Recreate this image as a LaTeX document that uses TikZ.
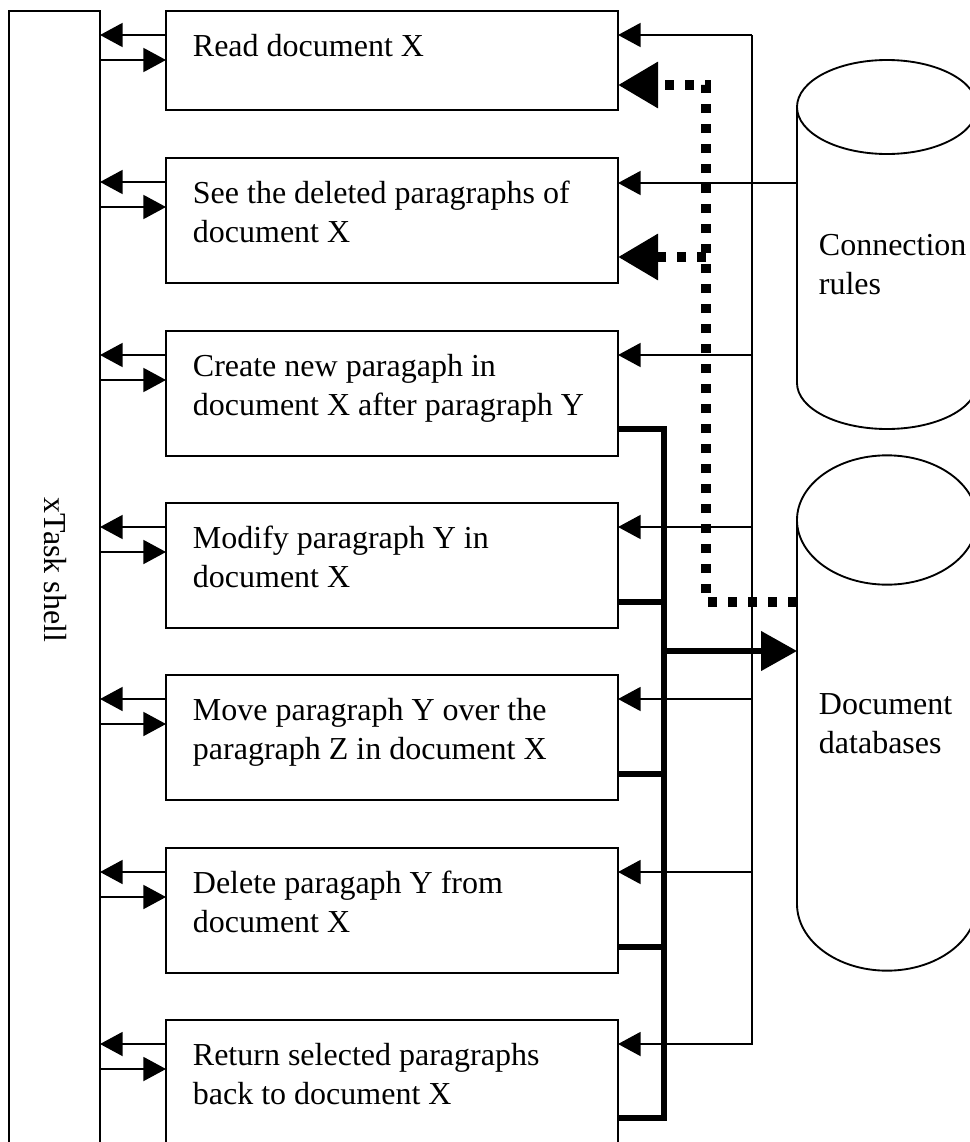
\documentclass[tikz,border=0pt]{standalone}
\usepackage{fontspec}
\setmainfont{Liberation Serif}
\usetikzlibrary{arrows.meta,calc}

\begin{document}
\begin{tikzpicture}[x=0.75pt,y=-0.75pt,
  line width=1.4pt,
  txt/.style={inner sep=0pt, align=left, font=\fontsize{24}{29.25}\selectfont},
  boxtext/.style={txt, anchor=north west},
  taskbox/.style={draw, rectangle, inner sep=0pt, outer sep=0pt, anchor=north west,
                  minimum width=339pt, minimum height=93.75pt},
  arr/.style={-{Triangle[length=17pt,width=18pt]}},
  dotline/.style={line width=7pt, dash pattern=on 7pt off 8pt},
  dotarr/.style={dotline, -{Triangle[length=30pt,width=33pt]}},
  bus/.style={line width=4.2pt},
  busarr/.style={bus, -{Triangle[length=27pt,width=29pt]}},
]
\useasboundingbox (0,0) rectangle (970,1142);
\clip (0,0) rectangle (970,1142);

% shell column
\node[draw, rectangle, inner sep=0pt, outer sep=0pt, anchor=north west,
      minimum width=68.25pt, minimum height=870pt] (shell) at (9,11) {};
\node[txt, rotate=-90] (shelltxt) at (55,570) {xTask shell};

% task boxes
\node[taskbox, minimum height=74.25pt] (b1) at (166,11) {};
\node[taskbox] (b2) at (166,158) {};
\node[taskbox] (b3) at (166,331) {};
\node[taskbox] (b4) at (166,503) {};
\node[taskbox] (b5) at (166,675) {};
\node[taskbox] (b6) at (166,848) {};
\node[taskbox] (b7) at (166,1020) {};

\node[boxtext] (t1) at (192,33) {Read document X};
\node[boxtext] (t2) at (192,180) {See the deleted paragraphs of\\document X};
\node[boxtext] (t3) at (192,353) {Create new paragaph in\\document X after paragraph Y};
\node[boxtext] (t4) at (192,525) {Modify paragraph Y in\\document X};
\node[boxtext] (t5) at (192,697) {Move paragraph Y over the\\paragraph Z in document X};
\node[boxtext] (t6) at (192,870) {Delete paragaph Y from\\document X};
\node[boxtext] (t7) at (192,1042) {Return selected paragraphs\\back to document X};

% shell <-> task arrows
\foreach \i/\t in {1/11,2/158,3/331,4/503,5/675,6/848,7/1020} {
  \draw[arr] (b\i.west |- 0,\t+24) -- (shell.east |- 0,\t+24);
  \draw[arr] (shell.east |- 0,\t+49) -- (b\i.west |- 0,\t+49);
}

% storage cylinders
\draw (887,107) ellipse [x radius=67.5pt, y radius=35.25pt];
\draw (797,107) -- (797,383) arc[start angle=180, end angle=360,
      x radius=67.5pt, y radius=34.5pt] -- (977,107);
\node[boxtext] (crtxt) at (818,233) {Connection\\rules};

\draw (887,520) ellipse [x radius=67.5pt, y radius=48.5pt];
\draw (797,520) -- (797,904) arc[start angle=180, end angle=360,
      x radius=67.5pt, y radius=50pt] -- (977,520);
\node[boxtext] (dbtxt) at (818,693) {Document\\databases};

\coordinate (crL) at (797,183);
\coordinate (dbdot) at (797,602);
\coordinate (dbin) at (797,651);

% rules feed line
\coordinate (rtop) at (752,35);
\coordinate (rbot) at (752,1045);
\draw (rtop) -- (rbot);
\draw[arr] (rtop) -- (b1.east |- rtop);
\draw[arr] (crL) -- (b2.east |- crL);
\foreach \i/\t in {3/331,4/503,5/675,6/848,7/1020} {
  \draw[arr] (752,\t+24) -- (b\i.east |- 0,\t+24);
}

% dotted database read path
\coordinate (dcorner) at (706,85);
\coordinate (djoin) at (706,257);
\draw[dotarr] (dbdot) -| (dcorner) -- (b1.east |- dcorner);
\draw[dotarr] (djoin) -- (b2.east |- djoin);

% thick write bus
\coordinate (bustop) at (664,429);
\coordinate (busbot) at (664,1118);
\coordinate (busmid) at (664,651);
\draw[bus] (b3.east |- bustop) -- (bustop) -- (busbot) -- (b7.east |- busbot);
\foreach \i/\t in {4/503,5/675,6/848} {
  \draw[bus] (b\i.east |- 0,\t+99) -- (664,\t+99);
}
\draw[busarr] (busmid) -- (dbin);
\end{tikzpicture}
\end{document}
